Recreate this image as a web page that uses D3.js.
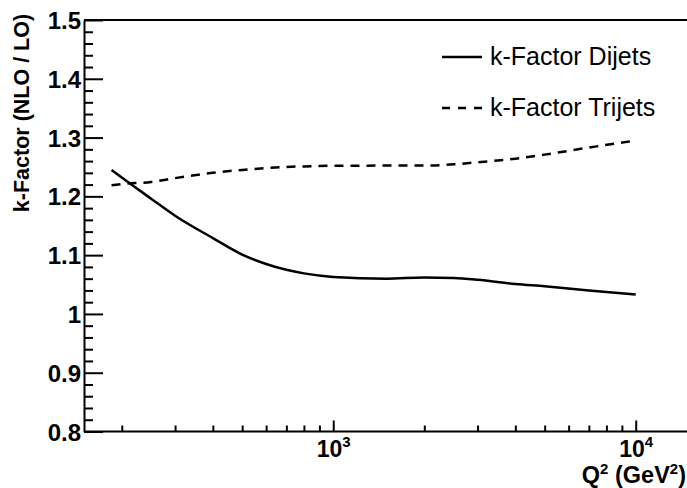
<!DOCTYPE html>
<html>
<head>
<meta charset="utf-8">
<script src="https://cdn.jsdelivr.net/npm/d3@7"></script>
<style>
  html, body { margin: 0; padding: 0; background: #fff; }
  svg { display: block; }
  text { font-family: "Liberation Sans", Arial, Helvetica, sans-serif; fill: #000; }
</style>
</head>
<body>
<svg id="chart" width="687" height="488"></svg>
<script>
// Q^2 sample points (GeV^2)
const q2 = [185, 200, 250, 300, 400, 500, 600, 700, 800, 1000, 1500, 2000, 2500, 3000, 4000, 5000, 7000, 10000];
// NLO/LO k-factor for dijet production
const kDijets = [1.245, 1.232, 1.196, 1.167, 1.129, 1.101, 1.085, 1.075, 1.069, 1.063, 1.060, 1.062, 1.061, 1.058, 1.051, 1.047, 1.040, 1.033];
// NLO/LO k-factor for trijet production
const kTrijets = [1.219, 1.221, 1.2245, 1.231, 1.240, 1.245, 1.248, 1.250, 1.251, 1.252, 1.2523, 1.2523, 1.2545, 1.258, 1.264, 1.271, 1.283, 1.295];

const seriesNames = ["k-Factor Dijets", "k-Factor Trijets"];
const yMajorTicks = [0.8, 0.9, 1.0, 1.1, 1.2, 1.3, 1.4, 1.5];
const yTickLabels = ["0.8", "0.9", "1", "1.1", "1.2", "1.3", "1.4", "1.5"];
const xMajorTicks = [1000, 10000];
const xTickExponents = ["3", "4"];

const svg = d3.select("#chart");
const plotLeft = 84, plotRight = 689, plotTop = 20, plotBottom = 431.5;

const x = d3.scaleLog().domain([150, 15000]).range([plotLeft, plotRight]);
const y = d3.scaleLinear().domain([0.8, 1.5]).range([plotBottom, plotTop]);

// frame: top border line
svg.append("line")
  .attr("x1", plotLeft).attr("x2", 687).attr("y1", plotTop).attr("y2", plotTop)
  .attr("stroke", "#000").attr("stroke-width", 2);

// y axis: minor ticks every 0.02
const yMinor = d3.range(0.8, 1.5001, 0.02).filter(v => !yMajorTicks.some(m => Math.abs(m - v) < 1e-6));
svg.append("g").attr("transform", `translate(${plotLeft},0)`)
  .call(d3.axisLeft(y).tickValues(yMinor).tickSize(-9).tickFormat(""))
  .call(g => g.select(".domain").remove())
  .call(g => g.selectAll("line").attr("stroke-width", 2));

// y axis: major ticks and labels
svg.append("g").attr("transform", `translate(${plotLeft},0)`)
  .call(d3.axisLeft(y).tickValues(yMajorTicks).tickSize(-19).tickSizeOuter(0).tickPadding(3)
    .tickFormat((d, i) => yTickLabels[i]))
  .call(g => g.select(".domain").attr("stroke-width", 2))
  .call(g => g.selectAll("line").attr("stroke-width", 2))
  .call(g => g.selectAll("text")
    .attr("font-size", 24).attr("font-weight", "bold").attr("dy", "0.36em")
    .attr("font-family", "Liberation Sans, Arial, sans-serif"));

// x axis: minor ticks
const xMinor = [200, 300, 400, 500, 600, 700, 800, 900, 2000, 3000, 4000, 5000, 6000, 7000, 8000, 9000];
svg.append("g").attr("transform", `translate(0,${plotBottom})`)
  .call(d3.axisBottom(x).tickValues(xMinor).tickSize(-6).tickFormat(""))
  .call(g => g.select(".domain").remove())
  .call(g => g.selectAll("line").attr("stroke-width", 2));

// x axis: major ticks with power-of-ten labels
const xAxisG = svg.append("g").attr("transform", `translate(0,${plotBottom})`)
  .call(d3.axisBottom(x).tickValues(xMajorTicks).tickSize(-11).tickSizeOuter(0).tickFormat(""))
  .call(g => g.select(".domain").attr("stroke-width", 2).attr("d", `M${plotLeft},0H687`))
  .call(g => g.selectAll("line").attr("stroke-width", 2));

xAxisG.selectAll(".tick").each(function(d, i) {
  const t = d3.select(this).append("text")
    .attr("y", 25.5).attr("x", 0)
    .attr("text-anchor", "middle")
    .attr("font-size", 23).attr("font-weight", "bold")
    .attr("fill", "#000").attr("font-family", "Liberation Sans, Arial, sans-serif");
  t.append("tspan").text("10");
  t.append("tspan").attr("dy", -10).attr("font-size", 15).text(xTickExponents[i]);
});

// x axis title
const xt = svg.append("text")
  .attr("x", 686).attr("y", 482.5)
  .attr("text-anchor", "end")
  .attr("font-size", 23.5).attr("font-weight", "bold");
xt.append("tspan").text("Q");
xt.append("tspan").attr("dy", -9).attr("font-size", 15).text("2");
xt.append("tspan").attr("dy", 9).text(" (GeV");
xt.append("tspan").attr("dy", -9).attr("font-size", 15).text("2");
xt.append("tspan").attr("dy", 9).text(")");

// y axis title
svg.append("text")
  .attr("transform", "translate(29,113) rotate(-90)")
  .attr("text-anchor", "middle")
  .attr("font-size", 21.5).attr("font-weight", "bold")
  .text("k-Factor (NLO / LO)");

// curves
const line = d3.line()
  .x(d => x(d[0]))
  .y(d => y(d[1]))
  .curve(d3.curveMonotoneX);

svg.append("clipPath").attr("id", "plot-clip")
  .append("rect").attr("x", plotLeft).attr("y", plotTop)
  .attr("width", plotRight - plotLeft).attr("height", plotBottom - plotTop);

const plot = svg.append("g").attr("clip-path", "url(#plot-clip)");

plot.append("path")
  .datum(q2.map((q, i) => [q, kDijets[i]]))
  .attr("fill", "none").attr("stroke", "#000").attr("stroke-width", 2.5)
  .attr("d", line);

plot.append("path")
  .datum(q2.map((q, i) => [q, kTrijets[i]]))
  .attr("fill", "none").attr("stroke", "#000").attr("stroke-width", 2.5)
  .attr("stroke-dasharray", "9,7")
  .attr("d", line);

// legend
const legend = svg.append("g");
const legendRows = [
  { name: seriesNames[0], dash: null, y: 57 },
  { name: seriesNames[1], dash: "8,8", y: 108 }
];
legendRows.forEach(r => {
  legend.append("line")
    .attr("x1", 442).attr("x2", 482).attr("y1", r.y).attr("y2", r.y)
    .attr("stroke", "#000").attr("stroke-width", 2.5)
    .attr("stroke-dasharray", r.dash);
  legend.append("text")
    .attr("x", 490).attr("y", r.y + 8)
    .attr("font-size", 25)
    .text(r.name);
});
</script>
</body>
</html>
